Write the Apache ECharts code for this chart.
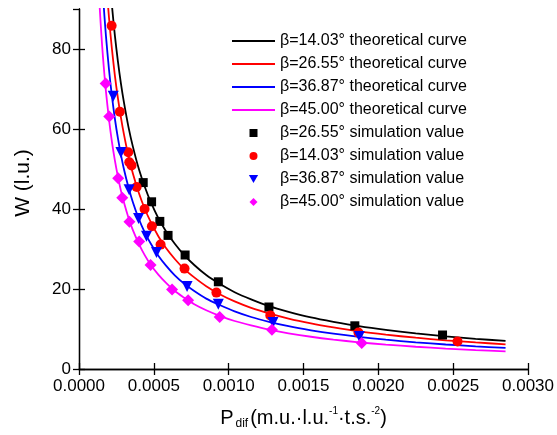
<!DOCTYPE html>
<html>
<head>
<meta charset="utf-8">
<script src="https://cdn.jsdelivr.net/npm/echarts@6/dist/echarts.min.js"></script>
<style>html,body{margin:0;padding:0;background:#fff;}#c{width:557px;height:435px;}</style>
</head>
<body>
<div id="c"></div>
<script>
// Theoretical curves
const curveP = [0.00013, 0.00014, 0.00015, 0.00016, 0.00017, 0.00018, 0.0002, 0.00022, 0.00024, 0.00026, 0.00028, 0.0003, 0.00033, 0.00036, 0.0004, 0.00044, 0.00048, 0.00053, 0.00058, 0.00064, 0.0007, 0.00077, 0.00085, 0.00094, 0.00104, 0.00115, 0.00127, 0.0014, 0.00155, 0.0017, 0.00187, 0.00205, 0.00225, 0.00245, 0.00265, 0.00285];
const curveW1403 = [153.8, 142.9, 133.3, 125.0, 117.6, 111.1, 100.0, 90.9, 83.3, 76.9, 71.4, 66.7, 60.6, 55.6, 50.0, 45.5, 41.7, 37.7, 34.5, 31.3, 28.6, 26.0, 23.5, 21.3, 19.2, 17.4, 15.7, 14.3, 12.9, 11.8, 10.7, 9.76, 8.89, 8.16, 7.55, 7.02];
const curveW2655 = [135.4, 125.7, 117.3, 110.0, 103.5, 97.8, 88.0, 80.0, 73.3, 67.7, 62.9, 58.7, 53.3, 48.9, 44.0, 40.0, 36.7, 33.2, 30.3, 27.5, 25.1, 22.9, 20.7, 18.7, 16.9, 15.3, 13.9, 12.6, 11.4, 10.4, 9.41, 8.59, 7.82, 7.18, 6.64, 6.18];
const curveW3687 = [115.4, 107.1, 100.0, 93.8, 88.2, 83.3, 75.0, 68.2, 62.5, 57.7, 53.6, 50.0, 45.5, 41.7, 37.5, 34.1, 31.3, 28.3, 25.9, 23.4, 21.4, 19.5, 17.6, 16.0, 14.4, 13.0, 11.8, 10.7, 9.68, 8.82, 8.02, 7.32, 6.67, 6.12, 5.66, 5.26];
const curveW4500 = [96.2, 89.3, 83.3, 78.1, 73.5, 69.4, 62.5, 56.8, 52.1, 48.1, 44.6, 41.7, 37.9, 34.7, 31.3, 28.4, 26.0, 23.6, 21.6, 19.5, 17.9, 16.2, 14.7, 13.3, 12.0, 10.9, 9.84, 8.93, 8.06, 7.35, 6.68, 6.10, 5.56, 5.10, 4.72, 4.39];

// Simulation values
const simPBlack = [0.000429, 0.000485, 0.00054, 0.000595, 0.000709, 0.000931, 0.001269, 0.001843, 0.002429];
const simWBlack = [46.6, 41.8, 36.9, 33.4, 28.5, 21.8, 15.5, 10.8, 8.5];
const simPRed = [0.000218, 0.000273, 0.000329, 0.000336, 0.000351, 0.000385, 0.000438, 0.000487, 0.000545, 0.000705, 0.000918, 0.001278, 0.001867, 0.002529];
const simWRed = [85.8, 64.3, 54.2, 51.7, 50.9, 45.5, 40.0, 35.7, 31.1, 25.1, 19.1, 13.4, 9.1, 6.9];
const simPBlue = [0.000229, 0.00028, 0.000335, 0.000398, 0.000451, 0.000518, 0.000722, 0.000931, 0.001296, 0.001873];
const simWBlue = [68.2, 54.1, 44.8, 37.6, 33.2, 29.1, 20.6, 16.2, 11.6, 8.1];
const simPMag = [0.000178, 0.000202, 0.000262, 0.000289, 0.000337, 0.000402, 0.000478, 0.000622, 0.000729, 0.00094, 0.001289, 0.001889];
const simWMag = [71.4, 63.1, 47.7, 42.8, 36.8, 31.9, 26.0, 19.9, 17.2, 13.0, 9.8, 6.5];

const xTickLabels = ['0.0000', '0.0005', '0.0010', '0.0015', '0.0020', '0.0025', '0.0030'];
const yTickLabels = ['0', '20', '40', '60', '80'];

const names = {
  l1: 'β=14.03° theoretical curve',
  l2: 'β=26.55° theoretical curve',
  l3: 'β=36.87° theoretical curve',
  l4: 'β=45.00° theoretical curve',
  s1: 'β=26.55° simulation value',
  s2: 'β=14.03° simulation value',
  s3: 'β=36.87° simulation value',
  s4: 'β=45.00° simulation value'
};

const FONT = 'Liberation Sans, Arial, sans-serif';
const zip = (a, b) => a.map((v, i) => [v, b[i]]);
const LINE_ICON = 'path://M0,0H40V1.8H0Z';
const TRI_DOWN = 'path://M0,0L10,0L5,8.66Z';
const SQUARE = 'path://M0,0H10V10H0Z';
const DIAMOND = 'path://M5,0L10,5L5,10L0,5Z';

function lineSeries(name, ys, color) {
  return {
    name, type: 'line', data: zip(curveP, ys), symbol: 'none',
    smooth: 0.3, clip: true,
    lineStyle: { color, width: 1.8 }, itemStyle: { color }, z: 2
  };
}
function scatterSeries(name, xs, ys, color, symbol, size, rot) {
  return {
    name, type: 'scatter', data: zip(xs, ys), symbol, symbolSize: size,
    symbolRotate: rot || 0, symbolKeepAspect: true,
    itemStyle: { color, opacity: 1 }, z: 3
  };
}

const axisCommon = {
  axisLine: { show: true, lineStyle: { color: '#000', width: 1.3 } },
  axisTick: { show: true, inside: true, length: 6, lineStyle: { color: '#000', width: 1.3 } },
  splitLine: { show: false }
};

const chart = echarts.init(document.getElementById('c'), null, { renderer: 'canvas' });
chart.setOption({
  animation: false,
  backgroundColor: '#fff',
  textStyle: { fontFamily: FONT },
  grid: { left: 79, right: 28, top: 9, bottom: 65, containLabel: false },
  legend: {
    orient: 'vertical', left: 227, top: 28, padding: 5,
    itemWidth: 43, itemHeight: 8, itemGap: 7, symbolKeepAspect: true,
    textStyle: { fontSize: 16, color: '#000', fontFamily: FONT },
    data: [
      { name: names.l1, icon: LINE_ICON }, { name: names.l2, icon: LINE_ICON },
      { name: names.l3, icon: LINE_ICON }, { name: names.l4, icon: LINE_ICON },
      { name: names.s1, icon: SQUARE }, { name: names.s2, icon: 'circle' },
      { name: names.s3, icon: TRI_DOWN }, { name: names.s4, icon: DIAMOND }
    ]
  },
  xAxis: [
    Object.assign({}, axisCommon, {
      type: 'value', min: 0, max: 0.003, interval: 0.0005, position: 'bottom',
      axisLabel: { fontSize: 17, color: '#000', margin: 9, fontFamily: FONT,
        formatter: (v) => xTickLabels[Math.round(v / 0.0005)] },
      name: '{a|P}{sub|dif}{a|(m.u.·l.u.}{sup|-1}{a|·t.s.}{sup|-2}{a|)}',
      nameLocation: 'middle', nameGap: 37,
      nameTextStyle: {
        rich: {
          a: { fontSize: 20, color: '#000', fontFamily: FONT, lineHeight: 24 },
          sub: { fontSize: 12, color: '#000', fontFamily: FONT, verticalAlign: 'bottom', lineHeight: 8, padding: [0, 2, 0, 2] },
          sup: { fontSize: 10, color: '#000', fontFamily: FONT, verticalAlign: 'top', lineHeight: 8 }
        }
      }
    }),
    Object.assign({}, axisCommon, {
      type: 'value', min: 0, max: 0.003, interval: 0.0005, position: 'top',
      axisLabel: { show: false }
    })
  ],
  yAxis: [
    Object.assign({}, axisCommon, {
      type: 'value', min: 0, max: 90, interval: 20, position: 'left',
      axisLabel: { fontSize: 17, color: '#000', margin: 8, fontFamily: FONT, showMaxLabel: false,
        formatter: (v) => (v % 20 === 0 ? yTickLabels[v / 20] : '') },
      name: 'W (l.u.)', nameLocation: 'middle', nameGap: 45, nameRotate: 90,
      nameTextStyle: { fontSize: 21, color: '#000', fontFamily: FONT, padding: [0, 0, 0, 12] }
    }),
    Object.assign({}, axisCommon, {
      type: 'value', min: 0, max: 90, interval: 20, position: 'right',
      axisLabel: { show: false }
    })
  ],
  series: [
    lineSeries(names.l1, curveW1403, '#000000'),
    lineSeries(names.l2, curveW2655, '#ff0000'),
    lineSeries(names.l3, curveW3687, '#0000ff'),
    lineSeries(names.l4, curveW4500, '#ff00ff'),
    scatterSeries(names.s1, simPBlack, simWBlack, '#000000', 'rect', 9),
    scatterSeries(names.s2, simPRed, simWRed, '#ff0000', 'circle', 10),
    scatterSeries(names.s3, simPBlue, simWBlue, '#0000ff', 'triangle', 11, 180),
    scatterSeries(names.s4, simPMag, simWMag, '#ff00ff', 'diamond', 12)
  ]
});
</script>
</body>
</html>
